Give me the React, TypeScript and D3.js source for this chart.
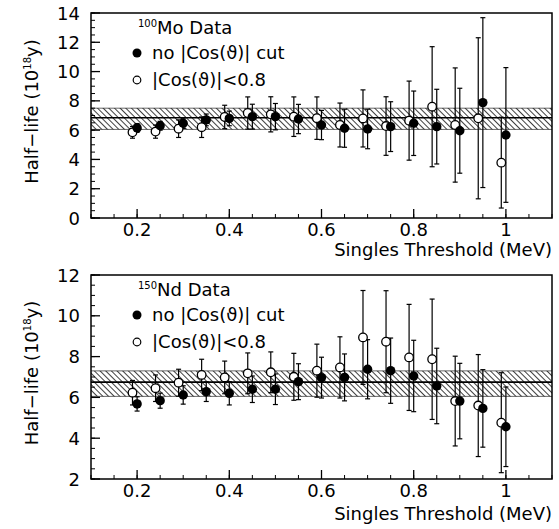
import React from "react";
import * as d3 from "d3";

// thresholds (MeV): filled = no cut, open = |cos|<0.8 (drawn shifted left)
const thresholds = [0.2, 0.25, 0.3, 0.35, 0.4, 0.45, 0.5, 0.55, 0.6, 0.65, 0.7, 0.75, 0.8, 0.85, 0.9, 0.95, 1.0];
const openShift = -0.01;

// 100Mo
const moFilled = [6.15, 6.3, 6.47, 6.7, 6.8, 6.92, 6.92, 6.76, 6.35, 6.13, 6.08, 6.24, 6.47, 6.24, 5.96, 7.88, 5.67];
const moFilledErr = [0.3, 0.3, 0.35, 0.4, 0.5, 0.85, 0.9, 1.0, 1.0, 1.3, 1.35, 1.7, 2.2, 2.55, 2.9, 5.8, 4.6];
const moOpen = [5.85, 5.9, 6.1, 6.2, 6.9, 7.17, 7.08, 6.92, 6.82, 6.35, 6.8, 6.28, 6.65, 7.6, 6.35, 6.81, 3.78];
const moOpenErr = [0.4, 0.45, 0.6, 0.7, 0.8, 1.1, 1.2, 1.35, 1.45, 1.5, 1.95, 2.0, 2.7, 4.1, 3.9, 5.5, 3.1];
const moBand = [6.05, 6.85, 7.5]; // low, mean, high

// 150Nd
const ndFilled = [5.68, 5.84, 6.12, 6.28, 6.2, 6.4, 6.4, 6.77, 6.97, 6.98, 7.38, 7.31, 7.05, 6.56, 5.82, 5.46, 4.56];
const ndFilledErr = [0.35, 0.37, 0.45, 0.48, 0.57, 0.65, 0.75, 0.88, 1.0, 1.15, 1.45, 1.6, 1.75, 1.85, 1.85, 1.9, 1.95];
const ndOpen = [6.23, 6.45, 6.72, 7.1, 6.98, 7.18, 7.23, 7.01, 7.31, 7.47, 8.94, 8.73, 7.96, 7.87, 5.82, 5.6, 4.76];
const ndOpenErr = [0.6, 0.65, 0.66, 0.77, 0.8, 1.0, 1.0, 1.15, 1.3, 1.5, 2.3, 2.5, 2.6, 2.95, 2.2, 2.5, 2.45];
const ndBand = [6.05, 6.75, 7.3];

const xTicks = [0.2, 0.4, 0.6, 0.8, 1];
const moYTicks = [0, 2, 4, 6, 8, 10, 12, 14];
const ndYTicks = [2, 4, 6, 8, 10, 12];

const font = "'DejaVu Sans', Verdana, sans-serif";

type PanelProps = {
  id: string;
  top: number;
  bottom: number;
  titleGap: number;
  yDomain: [number, number];
  yTicks: number[];
  isotope: string;
  mass: string;
  filled: number[];
  filledErr: number[];
  open: number[];
  openErr: number[];
  band: number[];
};

const Panel = ({ id, top, bottom, titleGap, yDomain, yTicks, isotope, mass, filled, filledErr, open, openErr, band }: PanelProps) => {
  const left = 91;
  const right = 552;
  const x = d3.scaleLinear().domain([0.1, 1.1]).range([left, right]);
  const y = d3.scaleLinear().domain(yDomain).range([bottom, top]);
  const xMinor = d3.range(0.1, 1.1001, 0.05);
  const yMinor = d3.range(yDomain[0], yDomain[1] + 0.001, 0.5);
  const cap = 2.5;
  const r = 4.3;

  const errBar = (xv: number, v: number, e: number, key: string) => {
    const cx = x(xv);
    return (
      <g key={key} stroke="#000" strokeWidth={1.2}>
        <line x1={cx} x2={cx} y1={y(v - e)} y2={y(v + e)} />
        <line x1={cx - cap} x2={cx + cap} y1={y(v - e)} y2={y(v - e)} />
        <line x1={cx - cap} x2={cx + cap} y1={y(v + e)} y2={y(v + e)} />
      </g>
    );
  };

  const cy = (top + bottom) / 2;

  return (
    <g>
      <defs>
        <pattern id={id} patternUnits="userSpaceOnUse" width={4} height={4} patternTransform="rotate(-45)">
          <line x1={0} y1={0} x2={0} y2={4} stroke="#000" strokeWidth={1.5} />
        </pattern>
      </defs>
      {/* hatched band */}
      <rect x={left} y={y(band[2])} width={right - left} height={y(band[0]) - y(band[2])} fill={`url(#${id})`} />
      <line x1={left} x2={right} y1={y(band[2])} y2={y(band[2])} stroke="#000" strokeWidth={0.6} />
      <line x1={left} x2={right} y1={y(band[0])} y2={y(band[0])} stroke="#000" strokeWidth={0.6} />
      <line x1={left} x2={right} y1={y(band[1])} y2={y(band[1])} stroke="#000" strokeWidth={1.6} />

      {/* error bars */}
      {thresholds.map((t, i) => errBar(t + openShift, open[i], openErr[i], "oe" + i))}
      {thresholds.map((t, i) => errBar(t, filled[i], filledErr[i], "fe" + i))}
      {/* markers */}
      {thresholds.map((t, i) => (
        <circle key={"o" + i} cx={x(t + openShift)} cy={y(open[i])} r={r} fill="#fff" stroke="#000" strokeWidth={1.3} />
      ))}
      {thresholds.map((t, i) => (
        <circle key={"f" + i} cx={x(t)} cy={y(filled[i])} r={r + 0.4} fill="#000" />
      ))}

      {/* frame */}
      <rect x={left} y={top} width={right - left} height={bottom - top} fill="none" stroke="#000" strokeWidth={1.5} />

      {/* x ticks */}
      {xMinor.map((t, i) => (
        <line key={"xm" + i} x1={x(t)} x2={x(t)} y1={bottom} y2={bottom - 4} stroke="#000" strokeWidth={1} />
      ))}
      {xTicks.map((t) => (
        <g key={"xt" + t}>
          <line x1={x(t)} x2={x(t)} y1={bottom} y2={bottom - 9} stroke="#000" strokeWidth={1.3} />
          <text x={x(t)} y={bottom + 18} textAnchor="middle" fontSize={18} fontFamily={font}>{d3.format("~g")(t)}</text>
        </g>
      ))}
      {/* y ticks */}
      {yMinor.map((t, i) => (
        <line key={"ym" + i} x1={left} x2={left + 4} y1={y(t)} y2={y(t)} stroke="#000" strokeWidth={1} />
      ))}
      {yTicks.map((t) => (
        <g key={"yt" + t}>
          <line x1={left} x2={left + 9} y1={y(t)} y2={y(t)} stroke="#000" strokeWidth={1.3} />
          <text x={80} y={y(t) + 6.5} textAnchor="end" fontSize={18} fontFamily={font}>{t}</text>
        </g>
      ))}

      {/* titles */}
      <text x={right} y={bottom + titleGap} textAnchor="end" fontSize={18} fontFamily={font}>Singles Threshold (MeV)</text>
      <text transform={`translate(38,${cy - 4}) rotate(-90)`} textAnchor="middle" fontSize={18} fontFamily={font}>
        Half−life (10<tspan fontSize={10} dy={-7}>18</tspan><tspan dy={7}>y)</tspan>
      </text>

      {/* legend */}
      <text x={138} y={top + 21} fontSize={18} fontFamily={font}>
        <tspan fontSize={10} dy={-7}>{mass}</tspan><tspan dy={7}>{isotope} Data</tspan>
      </text>
      <circle cx={137} cy={top + 40} r={4.5} fill="#000" />
      <text x={152} y={top + 46} fontSize={18} fontFamily={font}>no |Cos(ϑ)| cut</text>
      <circle cx={137} cy={top + 67} r={3.8} fill="#fff" stroke="#000" strokeWidth={1.2} />
      <text x={152} y={top + 73} fontSize={18} fontFamily={font}>|Cos(ϑ)|&lt;0.8</text>
    </g>
  );
};

export default function App() {
  return (
    <svg width={559} height={529} style={{ position: "absolute", left: 0, top: 0, background: "#fff" }}>
      <Panel id="hatchMo" top={13} bottom={218} titleGap={38} yDomain={[0, 14]} yTicks={moYTicks} isotope="Mo" mass="100"
        filled={moFilled} filledErr={moFilledErr} open={moOpen} openErr={moOpenErr} band={moBand} />
      <Panel id="hatchNd" top={275} bottom={479} titleGap={41} yDomain={[2, 12]} yTicks={ndYTicks} isotope="Nd" mass="150"
        filled={ndFilled} filledErr={ndFilledErr} open={ndOpen} openErr={ndOpenErr} band={ndBand} />
    </svg>
  );
}
